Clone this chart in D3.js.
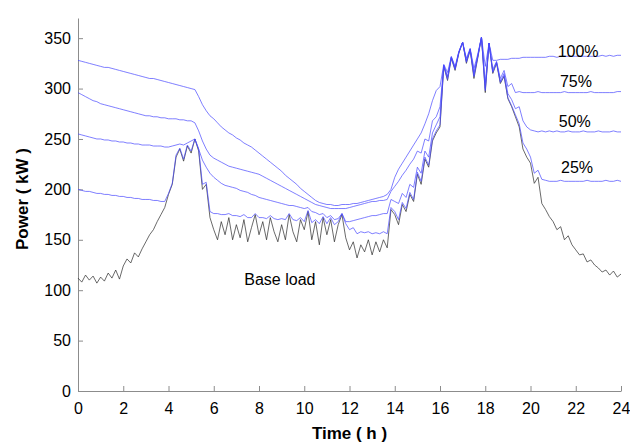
<!DOCTYPE html>
<html>
<head>
<meta charset="utf-8">
<script src="https://cdn.jsdelivr.net/npm/d3@7"></script>
<style>
  html, body { margin: 0; padding: 0; background: #fff; }
  svg { display: block; font-family: "Liberation Sans", Arial, Helvetica, sans-serif; }
  .axis path, .axis line { stroke: #8c8c8c; }
  .axis text { fill: #000; font-size: 16px; }
</style>
</head>
<body>
<svg id="chart" width="630" height="447"></svg>
<script>
// Daily power profile sampled every 10 minutes (145 samples, 0 h .. 24 h)
const stepMinutes = 10;

const baseLoad = [
  112,108,115,110,114,107, 113,109,117,112,120,111, 124,131,127,137,133,141, 148,155,160,168,175,182,
  195,205,232,240,228,243, 236,250,238,200,205,172, 160,150,168,155,172,150, 165,152,170,148,162,175,
  155,168,150,172,158,148, 165,150,175,158,148,170, 160,178,150,168,145,172, 155,170,148,165,175,152,
  140,148,132,145,138,150, 135,148,138,150,142,180, 175,165,185,178,195,188, 215,205,230,222,248,256,
  262,322,308,330,318,335, 346,325,338,310,330,351, 296,345,315,325,305,312, 290,282,272,262,240,232,
  226,206,212,186,180,173, 168,160,163,150,154,145, 140,135,136,128,130,125, 122,118,120,115,119,113,
  116
];

const load25 = [
  200,199,198,198,197,196, 196,195,195,194,194,193, 193,192,192,191,191,190, 190,190,189,189,188,188,
  196,206,234,241,230,244, 238,250,240,205,207,178, 176,176,175,175,176,174, 174,173,175,172,172,176,
  172,172,171,174,171,170, 171,170,176,170,169,172, 168,179,167,170,166,173, 166,172,165,168,176,166,
  160,162,156,158,157,158, 156,157,156,158,156,182, 178,170,187,181,197,190, 217,208,232,224,250,258,
  264,323,309,331,319,336, 346,326,339,312,331,351, 298,345,316,326,306,313, 291,283,274,265,246,240,
  232,216,219,210,209,208, 208,208,209,208,208,208, 208,208,208,209,208,208, 208,208,209,208,208,209,
  208
];

const load50 = [
  255,254,253,252,251,250, 250,249,249,248,248,247, 247,246,246,245,245,244, 244,244,243,243,243,242,
  242,243,244,245,244,246, 248,250,240,229,222,216, 212,209,206,204,203,202, 201,199,198,197,195,194,
  192,191,190,189,188,187, 186,185,184,184,183,182, 181,182,178,177,175,176, 172,174,170,171,176,168,
  168,169,170,171,172,173, 174,174,175,176,176,190, 188,186,196,192,205,202, 222,216,238,232,256,264,
  272,323,312,331,320,336, 346,327,339,313,332,351, 300,345,317,326,307,315, 295,289,280,282,268,262,
  259,258,257,258,257,258, 257,258,257,257,258,257, 257,257,258,257,257,257, 258,257,257,257,258,257,
  257
];

const load75 = [
  296,294,292,290,288,287, 285,284,283,282,281,280, 279,278,277,276,275,274, 273,273,272,272,271,271,
  270,270,270,269,269,268, 268,266,258,248,240,234, 231,229,227,225,223,222, 221,220,219,218,217,216,
  215,213,211,209,207,205, 203,201,199,197,195,193, 191,189,187,185,184,183, 182,181,181,181,181,181,
  182,183,184,185,186,187, 188,188,189,189,190,198, 203,208,214,219,225,230, 238,236,250,248,268,272,
  282,323,311,331,320,336, 346,328,339,316,332,351, 306,345,319,327,310,318, 302,305,296,297,296,296,
  296,296,297,296,296,296, 296,296,296,297,296,296, 296,296,296,296,297,296, 296,296,296,296,296,297,
  297
];

const load100 = [
  328,327,326,325,324,323, 322,321,321,320,319,318, 317,316,315,314,313,312, 311,310,310,309,308,307,
  306,305,304,303,302,301, 300,299,292,284,278,273, 270,266,262,259,256,254, 251,249,246,244,242,239,
  236,233,230,227,224,221, 218,214,211,208,205,201, 198,195,192,189,187,186, 185,185,184,184,185,185,
  185,186,186,187,188,189, 190,191,192,193,195,200, 212,220,226,232,238,244, 250,256,265,275,288,298,
  302,324,316,332,322,337, 346,330,340,320,334,351, 322,345,328,328,329,329, 329,330,330,330,331,331,
  331,331,331,331,331,332, 332,331,332,332,332,332, 332,332,332,332,332,332, 332,333,332,333,332,333,
  333
];

const chargingSeries = [load25, load50, load75, load100];
const chargingLabels = ["25%", "50%", "75%", "100%"];
const xTicks = [0, 2, 4, 6, 8, 10, 12, 14, 16, 18, 20, 22, 24];
const yTicks = [0, 50, 100, 150, 200, 250, 300, 350];

const width = 630, height = 447;
const margin = { top: 18, right: 9, bottom: 56, left: 78 };
const innerW = width - margin.left - margin.right;
const innerH = height - margin.top - margin.bottom;

const svg = d3.select("#chart");
const g = svg.append("g").attr("transform", `translate(${margin.left},${margin.top})`);

const x = d3.scaleLinear().domain([0, 24]).range([0, innerW]);
const y = d3.scaleLinear().domain([0, 370]).range([innerH, 0]);

const hourOf = i => i * stepMinutes / 60;
const line = d3.line()
  .x((d, i) => x(hourOf(i)))
  .y(d => y(d));

// axes: ticks point into the plot area
g.append("g")
  .attr("class", "axis")
  .attr("transform", `translate(0,${innerH})`)
  .call(d3.axisBottom(x).tickValues(xTicks).tickSizeInner(-5).tickSizeOuter(0).tickPadding(12));

g.append("g")
  .attr("class", "axis")
  .call(d3.axisLeft(y).tickValues(yTicks).tickSizeInner(-5).tickSizeOuter(0).tickPadding(7));

// base load underneath the charging profiles
g.append("path")
  .datum(baseLoad)
  .attr("fill", "none")
  .attr("stroke", "#2a2a2a")
  .attr("stroke-width", 0.7)
  .attr("d", line);

g.selectAll(".charge")
  .data(chargingSeries)
  .join("path")
  .attr("class", "charge")
  .attr("fill", "none")
  .attr("stroke", "#4848ff")
  .attr("stroke-width", 0.7)
  .attr("d", line);

// series labels at the right end of each profile
const labelPos = [
  { text: chargingLabels[0], h: 21.35, v: 173 },
  { text: chargingLabels[1], h: 21.25, v: 127 },
  { text: chargingLabels[2], h: 21.3, v: 87 },
  { text: chargingLabels[3], h: 21.2, v: 57 }
];
svg.selectAll(".slabel")
  .data(labelPos)
  .join("text")
  .attr("class", "slabel")
  .attr("x", d => margin.left + x(d.h))
  .attr("y", d => d.v)
  .attr("font-size", 16)
  .attr("fill", "#000")
  .text(d => d.text);

svg.append("text")
  .attr("x", margin.left + x(7.35))
  .attr("y", 285)
  .attr("font-size", 16)
  .attr("fill", "#000")
  .text("Base load");

// axis titles
svg.append("text")
  .attr("x", margin.left + innerW / 2)
  .attr("y", 439)
  .attr("text-anchor", "middle")
  .attr("font-size", 17)
  .attr("font-weight", "bold")
  .text("Time ( h )");

svg.append("text")
  .attr("transform", "translate(28,199) rotate(-90)")
  .attr("text-anchor", "middle")
  .attr("font-size", 17)
  .attr("font-weight", "bold")
  .text("Power ( kW )");
</script>
</body>
</html>
